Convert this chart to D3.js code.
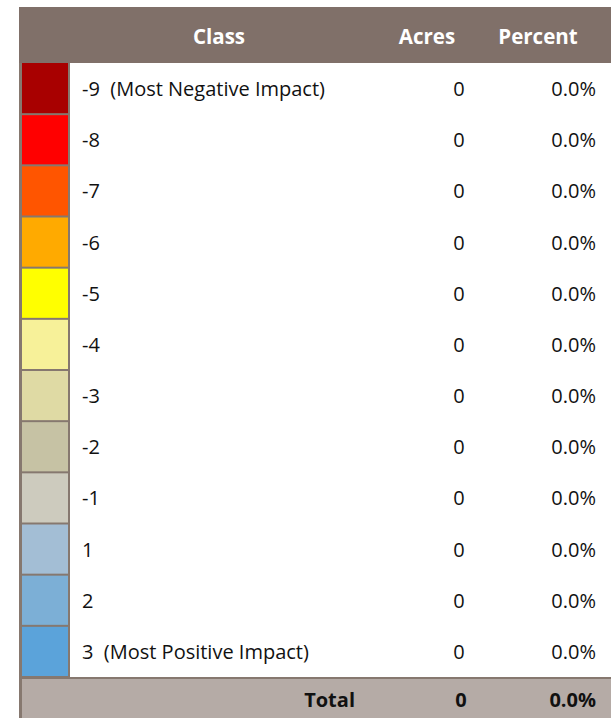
<!DOCTYPE html>
<html>
<head>
<meta charset="utf-8">
<script src="https://cdn.jsdelivr.net/npm/d3@7"></script>
<style>
  body { margin: 0; background: #fff; }
  svg { display: block; }
  text { font-family: "Open Sans", sans-serif; white-space: pre; }
</style>
</head>
<body>
<script>
// table values
const classLabels = ['-9  (Most Negative Impact)', '-8', '-7', '-6', '-5', '-4', '-3', '-2', '-1', '1', '2', '3  (Most Positive Impact)'];
const classColors = ['#a80000', '#ff0000', '#ff5500', '#ffaa00', '#ffff00', '#f7f199', '#dfdaa4', '#c6c2a4', '#cdcbbe', '#a3bed5', '#7cafd6', '#5ba3da'];
const acres = [0, 0, 0, 0, 0, 0, 0, 0, 0, 0, 0, 0];
const percents = [0, 0, 0, 0, 0, 0, 0, 0, 0, 0, 0, 0];
const headers = ['Class', 'Acres', 'Percent'];
const totalAcres = 0;
const totalPercent = 0;

const W = 611, H = 718;
const BORDER = '#86786f';
const HEAD_FILL = '#807069';
const TOTAL_FILL = '#b5aba6';
const BODY_SIZE = 20;

const svg = d3.select('body').append('svg')
    .attr('width', W)
    .attr('height', H);

const pct = d3.format('.1%');

// rows
const y = d3.scaleBand()
    .domain(d3.range(classLabels.length))
    .range([63, 677])
    .padding(0);

// header bar
svg.append('rect')
    .attr('x', 19).attr('y', 7)
    .attr('width', W - 19).attr('height', 56)
    .attr('fill', HEAD_FILL);

const headX = [219, 427, 538];
svg.selectAll('.head')
    .data(headers)
    .join('text')
    .attr('class', 'head')
    .attr('x', (d, i) => headX[i])
    .attr('y', 35.5)
    .attr('text-anchor', 'middle')
    .attr('dominant-baseline', 'central')
    .attr('fill', '#fff')
    .attr('font-weight', 'bold')
    .attr('font-size', 20.5)
    .text(d => d);

// swatch column background (acts as the grey borders)
svg.append('rect')
    .attr('x', 19).attr('y', 63)
    .attr('width', 51).attr('height', 614)
    .attr('fill', BORDER);

svg.selectAll('.swatch')
    .data(classColors)
    .join('rect')
    .attr('class', 'swatch')
    .attr('x', 22)
    .attr('y', (d, i) => y(i) + (i === 0 ? 0 : 1))
    .attr('width', 46)
    .attr('height', (d, i) => y.bandwidth() - (i === 0 ? 1 : 2))
    .attr('fill', d => d);

const rows = svg.selectAll('.row')
    .data(classLabels)
    .join('g')
    .attr('class', 'row')
    .attr('transform', (d, i) => `translate(0,${y(i) + y.bandwidth() / 2})`);

rows.append('text')
    .attr('x', 82)
    .attr('dominant-baseline', 'central')
    .attr('font-size', BODY_SIZE)
    .attr('fill', '#111')
    .text(d => d);

rows.append('text')
    .attr('x', 459)
    .attr('text-anchor', 'middle')
    .attr('dominant-baseline', 'central')
    .attr('font-size', BODY_SIZE)
    .attr('fill', '#111')
    .text((d, i) => acres[i]);

rows.append('text')
    .attr('x', 596)
    .attr('text-anchor', 'end')
    .attr('dominant-baseline', 'central')
    .attr('font-size', BODY_SIZE)
    .attr('fill', '#111')
    .text((d, i) => pct(percents[i]));

// total row
svg.append('rect')
    .attr('x', 19).attr('y', 677)
    .attr('width', W - 19).attr('height', H - 677)
    .attr('fill', BORDER);
svg.append('rect')
    .attr('x', 22).attr('y', 679)
    .attr('width', W - 22).attr('height', H - 679)
    .attr('fill', TOTAL_FILL);

const totalY = 699;
const totals = [['Total', 355, 'end'], [totalAcres, 461, 'middle'], [pct(totalPercent), 596, 'end']];
svg.selectAll('.total')
    .data(totals)
    .join('text')
    .attr('class', 'total')
    .attr('x', d => d[1])
    .attr('y', totalY)
    .attr('text-anchor', d => d[2])
    .attr('dominant-baseline', 'central')
    .attr('font-weight', 'bold')
    .attr('font-size', 20)
    .attr('fill', '#111')
    .text(d => d[0]);
</script>
</body>
</html>
